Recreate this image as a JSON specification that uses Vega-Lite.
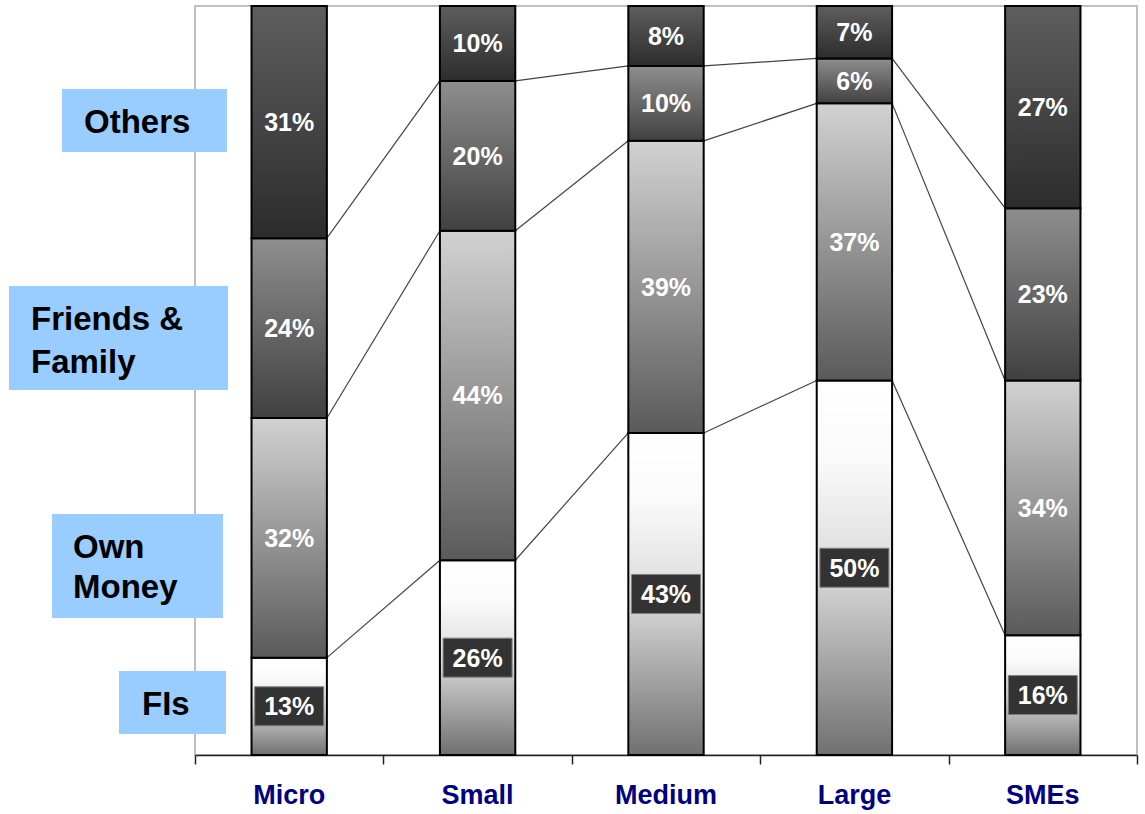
{
  "$schema": "https://vega.github.io/schema/vega-lite/v6.json",
  "width": 942,
  "height": 749,
  "autosize": {"type": "none"},
  "padding": {"left": 195, "top": 6, "right": 8, "bottom": 59},
  "background": "white",
  "config": {
    "view": {"stroke": "#bfbfbf", "strokeWidth": 2},
    "font": "Liberation Sans"
  },
  "data": {
    "values": [
      {"size": "Micro", "source": "FIs", "pct": 13},
      {"size": "Micro", "source": "Own Money", "pct": 32},
      {"size": "Micro", "source": "Friends & Family", "pct": 24},
      {"size": "Micro", "source": "Others", "pct": 31},
      {"size": "Small", "source": "FIs", "pct": 26},
      {"size": "Small", "source": "Own Money", "pct": 44},
      {"size": "Small", "source": "Friends & Family", "pct": 20},
      {"size": "Small", "source": "Others", "pct": 10},
      {"size": "Medium", "source": "FIs", "pct": 43},
      {"size": "Medium", "source": "Own Money", "pct": 39},
      {"size": "Medium", "source": "Friends & Family", "pct": 10},
      {"size": "Medium", "source": "Others", "pct": 8},
      {"size": "Large", "source": "FIs", "pct": 50},
      {"size": "Large", "source": "Own Money", "pct": 37},
      {"size": "Large", "source": "Friends & Family", "pct": 6},
      {"size": "Large", "source": "Others", "pct": 7},
      {"size": "SMEs", "source": "FIs", "pct": 16},
      {"size": "SMEs", "source": "Own Money", "pct": 34},
      {"size": "SMEs", "source": "Friends & Family", "pct": 23},
      {"size": "SMEs", "source": "Others", "pct": 27}
    ]
  },
  "transform": [
    {"calculate": "indexof(['FIs','Own Money','Friends & Family','Others'], datum.source)", "as": "rank"},
    {"calculate": "indexof(['Micro','Small','Medium','Large','SMEs'], datum.size)", "as": "col"},
    {"stack": "pct", "groupby": ["size"], "sort": [{"field": "rank", "order": "ascending"}], "as": ["y0", "y1"]},
    {"calculate": "(datum.y0 + datum.y1) / 2", "as": "mid"},
    {"calculate": "datum.pct + '%'", "as": "label"}
  ],
  "resolve": {"scale": {"x": "independent"}, "axis": {"x": "independent"}},
  "layer": [
    {
      "transform": [
        {"window": [{"op": "lead", "field": "y1", "as": "ny"}, {"op": "lead", "field": "col", "as": "ncol"}], "groupby": ["source"], "sort": [{"field": "col", "order": "ascending"}]},
        {"filter": "datum.source !== 'Others' && datum.ncol != null"}
      ],
      "mark": {"type": "rule", "color": "#444444", "strokeWidth": 1.2, "xOffset": 37.7, "x2Offset": -37.7},
      "encoding": {
        "x": {
          "field": "col", "type": "quantitative",
          "scale": {"domain": [-0.5, 4.5], "nice": false, "zero": false},
          "axis": {
            "orient": "bottom", "values": [-0.5, 0.5, 1.5, 2.5, 3.5, 4.5], "labels": false, "domain": false,
            "grid": false, "ticks": true, "tickSize": 9, "tickColor": "#222222", "tickWidth": 1.5, "title": null
          }
        },
        "x2": {"field": "ncol"},
        "y": {"field": "y1", "type": "quantitative", "axis": null},
        "y2": {"field": "ny"}
      }
    },
    {
      "layer": [
        {
          "transform": [{"filter": "datum.source === 'FIs'"}],
          "mark": {"type": "bar", "stroke": "#000000", "strokeWidth": 2,
            "fill": {"gradient": "linear", "x1": 0, "y1": 0, "x2": 0, "y2": 1, "stops": [{"offset": 0, "color": "#ffffff"}, {"offset": 0.2, "color": "#fbfbfb"}, {"offset": 0.5, "color": "#dcdcdc"}, {"offset": 1, "color": "#707070"}]}},
          "encoding": {
            "x": {
              "field": "size", "type": "nominal",
              "sort": ["Micro", "Small", "Medium", "Large", "SMEs"],
              "scale": {"paddingInner": 0.6, "paddingOuter": 0.3},
              "axis": {
                "orient": "bottom", "title": null, "labelAngle": 0, "domain": true, "domainColor": "#222222", "domainWidth": 1.5,
                "ticks": false,
                "labelFont": "Liberation Sans", "labelFontWeight": "bold", "labelFontSize": 27,
                "labelColor": "#000080", "labelPadding": 27
              }
            },
            "y": {"field": "y0", "type": "quantitative", "scale": {"domain": [0, 100], "nice": false}, "axis": null},
            "y2": {"field": "y1"}
          }
        },
        {
          "transform": [{"filter": "datum.source === 'Own Money'"}],
          "mark": {"type": "bar", "stroke": "#000000", "strokeWidth": 2,
            "fill": {"gradient": "linear", "x1": 0, "y1": 0, "x2": 0, "y2": 1, "stops": [{"offset": 0, "color": "#d2d2d2"}, {"offset": 1, "color": "#5a5a5a"}]}},
          "encoding": {
            "x": {"field": "size", "type": "nominal", "sort": ["Micro", "Small", "Medium", "Large", "SMEs"]},
            "y": {"field": "y0", "type": "quantitative", "axis": null},
            "y2": {"field": "y1"}
          }
        },
        {
          "transform": [{"filter": "datum.source === 'Friends & Family'"}],
          "mark": {"type": "bar", "stroke": "#000000", "strokeWidth": 2,
            "fill": {"gradient": "linear", "x1": 0, "y1": 0, "x2": 0, "y2": 1, "stops": [{"offset": 0, "color": "#8e8e8e"}, {"offset": 1, "color": "#404040"}]}},
          "encoding": {
            "x": {"field": "size", "type": "nominal", "sort": ["Micro", "Small", "Medium", "Large", "SMEs"]},
            "y": {"field": "y0", "type": "quantitative", "axis": null},
            "y2": {"field": "y1"}
          }
        },
        {
          "transform": [{"filter": "datum.source === 'Others'"}],
          "mark": {"type": "bar", "stroke": "#000000", "strokeWidth": 2,
            "fill": {"gradient": "linear", "x1": 0, "y1": 0, "x2": 0, "y2": 1, "stops": [{"offset": 0, "color": "#5e5e5e"}, {"offset": 1, "color": "#2c2c2c"}]}},
          "encoding": {
            "x": {"field": "size", "type": "nominal", "sort": ["Micro", "Small", "Medium", "Large", "SMEs"]},
            "y": {"field": "y0", "type": "quantitative", "axis": null},
            "y2": {"field": "y1"}
          }
        },
        {
          "transform": [{"filter": "datum.source === 'FIs'"}],
          "mark": {"type": "bar", "width": 69, "fill": "#333333", "stroke": "#808080", "strokeWidth": 1, "yOffset": -19.5, "y2Offset": 19.5},
          "encoding": {
            "x": {"field": "size", "type": "nominal", "sort": ["Micro", "Small", "Medium", "Large", "SMEs"]},
            "y": {"field": "mid", "type": "quantitative", "axis": null},
            "y2": {"field": "mid"}
          }
        },
        {
          "mark": {"type": "text", "color": "#ffffff", "fontWeight": "bold", "fontSize": 25, "baseline": "middle", "dy": 1},
          "encoding": {
            "x": {"field": "size", "type": "nominal", "sort": ["Micro", "Small", "Medium", "Large", "SMEs"]},
            "y": {"field": "mid", "type": "quantitative", "axis": null},
            "text": {"field": "label"}
          }
        },
        {
          "transform": [{"filter": "datum.size === 'Micro' && datum.source === 'Others'"}],
          "mark": {"type": "rect", "x": -133, "x2": 32, "yOffset": -33.1, "y2Offset": 29.9, "fill": "#99ccff"},
          "encoding": {"y": {"field": "mid", "type": "quantitative", "axis": null}, "y2": {"field": "mid"}}
        },
        {
          "transform": [{"filter": "datum.size === 'Micro' && datum.source === 'Others'"}],
          "mark": {"type": "text", "x": -111, "align": "left", "baseline": "alphabetic", "fontSize": 33, "fontWeight": "bold", "color": "#000000", "yOffset": 10.9},
          "encoding": {"y": {"field": "mid", "type": "quantitative", "axis": null}, "text": {"value": "Others"}}
        },
        {
          "transform": [{"filter": "datum.size === 'Micro' && datum.source === 'Friends & Family'"}],
          "mark": {"type": "rect", "x": -186, "x2": 33, "yOffset": -42.1, "y2Offset": 61.9, "fill": "#99ccff"},
          "encoding": {"y": {"field": "mid", "type": "quantitative", "axis": null}, "y2": {"field": "mid"}}
        },
        {
          "transform": [{"filter": "datum.size === 'Micro' && datum.source === 'Friends & Family'"}],
          "mark": {"type": "text", "x": -164, "align": "left", "baseline": "alphabetic", "fontSize": 33, "fontWeight": "bold", "color": "#000000", "yOffset": 1.9, "lineHeight": 43, "lineBreak": "|"},
          "encoding": {"y": {"field": "mid", "type": "quantitative", "axis": null}, "text": {"value": "Friends &|Family"}}
        },
        {
          "transform": [{"filter": "datum.size === 'Micro' && datum.source === 'Own Money'"}],
          "mark": {"type": "rect", "x": -143, "x2": 28, "yOffset": -23.8, "y2Offset": 80.2, "fill": "#99ccff"},
          "encoding": {"y": {"field": "mid", "type": "quantitative", "axis": null}, "y2": {"field": "mid"}}
        },
        {
          "transform": [{"filter": "datum.size === 'Micro' && datum.source === 'Own Money'"}],
          "mark": {"type": "text", "x": -122, "align": "left", "baseline": "alphabetic", "fontSize": 33, "fontWeight": "bold", "color": "#000000", "yOffset": 20.2, "lineHeight": 40, "lineBreak": "|"},
          "encoding": {"y": {"field": "mid", "type": "quantitative", "axis": null}, "text": {"value": "Own|Money"}}
        },
        {
          "transform": [{"filter": "datum.size === 'Micro' && datum.source === 'FIs'"}],
          "mark": {"type": "rect", "x": -76, "x2": 31, "yOffset": -35.3, "y2Offset": 27.7, "fill": "#99ccff"},
          "encoding": {"y": {"field": "mid", "type": "quantitative", "axis": null}, "y2": {"field": "mid"}}
        },
        {
          "transform": [{"filter": "datum.size === 'Micro' && datum.source === 'FIs'"}],
          "mark": {"type": "text", "x": -53, "align": "left", "baseline": "alphabetic", "fontSize": 33, "fontWeight": "bold", "color": "#000000", "yOffset": 8.7},
          "encoding": {"y": {"field": "mid", "type": "quantitative", "axis": null}, "text": {"value": "FIs"}}
        }
      ]
    }
  ]
}
